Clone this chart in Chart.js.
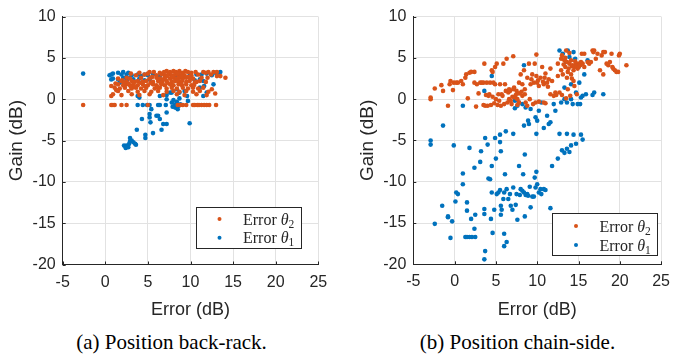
<!DOCTYPE html>
<html>
<head>
<meta charset="utf-8">
<script src="https://cdn.jsdelivr.net/npm/chart.js@4"></script>
<style>
  body { margin: 0; background: #fff; width: 678px; height: 356px; position: relative; overflow: hidden; }
  .panel { position: absolute; top: 0; width: 339px; height: 325px; }
  .caption { position: absolute; top: 331px; width: 339px; text-align: center; line-height: 22px;
             font-family: "Liberation Serif", serif; font-size: 21px; color: #000; }
</style>
</head>
<body>
<div class="panel" style="left:0"><canvas id="backRack" width="339" height="325"></canvas></div>
<div class="panel" style="left:339px"><canvas id="chainSide" width="339" height="325"></canvas></div>
<div class="caption" style="left:2px">(a) Position back-rack.</div>
<div class="caption" style="left:348px">(b) Position chain-side.</div>

<script>
// axis ticks
const xTicks = [-5, 0, 5, 10, 15, 20, 25];
const yTicks = [-20, -15, -10, -5, 0, 5, 10];

// (a) back-rack : [error, gain]
const backTheta2 = [
  [-2.6,-0.7],[0.7,-0.7],[0.9,-0.7],[1.1,-0.7],[1.9,-0.7],[2.5,-0.7],[5.0,-0.7],[8.5,-0.7],[8.8,-0.7],[9.1,-0.7],
  [9.5,-0.7],[10.3,-0.7],[10.5,-0.7],[10.8,-0.7],[11.0,-0.7],[11.3,-0.7],[11.6,-0.7],[11.9,-0.7],[12.2,-0.7],[13.0,-0.7],
  [4.0,3.2],[5.2,3.3],[5.7,3.3],[6.4,3.2],[7.2,3.4],[7.6,3.3],[8.0,3.4],[8.3,3.3],[8.7,3.4],[9.1,3.2],
  [9.7,3.3],[10.1,3.2],[11.5,3.3],[12.1,3.3],[12.7,3.3],[13.1,3.3],
  [3.6,2.9],[4.6,3.0],[6.0,2.9],[6.6,3.0],[7.0,2.9],[7.4,3.0],[7.8,2.9],[8.2,3.0],[8.6,2.9],[9.0,3.0],
  [9.3,2.9],[10.1,2.9],[10.9,3.0],[13.5,2.8],
  [1.5,2.5],[2.5,2.6],[2.9,2.5],[4.2,2.6],[5.2,2.5],[6.0,2.6],[6.4,2.5],[7.0,2.6],[7.6,2.5],[8.0,2.6],
  [8.3,2.5],[8.7,2.6],[9.1,2.5],[9.5,2.6],[10.3,2.5],[11.3,2.6],[14.1,2.6],
  [1.9,2.2],[2.5,2.1],[3.1,2.2],[3.4,2.1],[3.8,2.2],[4.4,2.1],[4.8,2.2],[5.6,2.1],[6.2,2.2],[6.7,2.1],
  [7.2,2.2],[7.8,2.1],[8.2,2.2],[8.6,2.1],[9.0,2.2],[9.5,2.1],[9.9,2.2],[10.7,2.1],[11.1,2.2],
  [0.7,1.6],[1.5,1.8],[2.1,1.7],[2.5,1.8],[2.9,1.7],[3.3,1.8],[3.8,1.7],[4.4,1.8],[5.0,1.7],[5.6,1.8],
  [6.0,1.7],[6.6,1.8],[7.0,1.7],[7.6,1.8],[8.0,1.7],[8.6,1.8],[9.0,1.7],[9.5,1.8],[10.1,1.7],
  [1.1,1.4],[1.7,1.3],[2.3,1.4],[3.1,1.3],[3.6,1.4],[4.2,1.3],[4.8,1.4],[5.8,1.3],[6.4,1.4],[7.2,1.3],
  [7.8,1.4],[8.4,1.3],[9.1,1.4],[9.7,1.3],[10.3,1.4],[10.9,1.3],[11.5,1.4],
  [1.5,1.0],[2.7,1.0],[3.8,0.9],[4.6,1.0],[5.4,0.9],[6.2,1.0],[7.2,0.9],[8.0,1.0],[8.7,0.9],[9.5,1.0],
  [10.3,0.9],[11.1,1.0],[12.1,0.9],
  [0.9,0.6],[1.9,0.5],[3.1,0.6],[4.0,0.5],[5.2,0.6],[6.8,0.5],[8.4,0.6],[9.3,0.5],[10.7,0.6],[11.9,0.5],
  [0.7,0.4],[13.1,2.8],[6.8,2.4],[7.3,2.0],[7.9,2.7],[8.5,2.3],[6.1,1.5],[5.3,2.0],[4.6,1.6],[3.4,1.5],
  [2.7,1.9],[2.0,2.3],[1.3,1.1],[9.8,2.7],[10.5,2.0],[11.8,2.1],[12.5,1.2],[12.9,0.7],
  [3.0,3.1],[5.0,3.1],[6.9,3.3],[8.5,3.1],[9.4,3.4],[10.6,3.3],[11.8,3.2],[12.4,3.0],[5.5,2.7],[7.3,2.8],
  [8.9,2.8],[10.0,2.5],[12.0,2.6],[2.2,2.0],[4.1,2.0],[6.5,2.0],[8.9,1.9],[10.4,1.7],[1.2,1.9],[3.0,1.5]
];
const backTheta1 = [
  [-2.6,3.1],
  [0.5,2.9],[0.7,3.0],[0.9,3.1],[1.5,3.2],[1.9,3.0],[2.1,3.3],[2.5,3.0],[2.7,3.2],[3.1,2.9],[3.8,3.0],
  [4.2,2.8],[4.6,3.0],[5.0,2.9],[5.6,3.0],[6.4,2.8],[8.2,2.8],[9.9,2.9],[10.7,3.0],[11.3,3.0],[11.9,3.1],
  [12.5,2.9],[12.9,3.2],[13.1,3.1],[13.5,3.3],
  [0.9,2.5],[1.5,2.4],[2.1,2.6],[2.5,2.3],[2.9,2.6],[3.3,2.4],[4.0,2.5],[4.6,2.3],[5.2,2.4],[6.4,2.4],
  [10.5,2.3],[11.1,2.4],[11.5,2.2],[0.7,2.4],[1.7,2.0],
  [3.8,0.4],[4.0,0.2],[7.2,0.5],[7.6,0.8],[8.4,1.2],[9.3,1.0],[8.7,0.8],[7.8,0.8],[6.4,0.4],[9.6,0.4],
  [9.7,-0.2],[11.5,0.4],[11.9,0.8],[11.6,1.6],[12.7,1.8],[11.1,1.4],
  [3.8,-0.7],[4.4,-0.7],[4.9,-0.7],[5.2,-0.7],[6.2,-0.7],[6.4,-0.7],[7.1,-0.7],
  [7.8,-0.4],[8.0,-0.1],[8.2,-0.6],[8.4,-0.3],[8.7,0.1],[8.3,-1.0],[8.5,-1.2],[8.8,-0.6],[7.9,-0.9],[7.2,0.0],[8.6,-0.8],
  [5.2,-1.8],[5.4,-1.2],[5.3,-2.8],[6.0,-2.0],[6.2,-2.0],[6.4,-2.4],[6.8,-3.0],[7.2,-1.6],[7.2,-3.0],[6.6,-3.7],
  [5.6,-4.1],[4.7,-4.3],[4.7,-4.7],[3.7,-3.7],[4.3,-2.4],[5.2,-2.2],[9.9,-2.9],[8.2,-1.0],
  [2.2,-5.6],[2.4,-5.8],[2.5,-5.6],[2.7,-5.8],[2.8,-5.4],[2.9,-5.1],[3.1,-5.0],[3.3,-5.2],[3.5,-5.4],[3.6,-5.5],
  [2.9,-4.7],[2.5,-5.7],[2.4,-5.9]
];

// (b) chain-side : [error, gain]
const chainTheta2 = [
  [-2.9,0.0],[-2.9,0.2],[-2.4,1.3],[-1.6,1.7],[-1.4,1.0],[-0.8,-0.8],[-0.6,1.8],[-0.5,2.2],[-0.2,1.1],[-0.1,2.0],
  [0.2,2.0],[0.4,2.0],[0.8,2.2],[1.0,1.8],[1.3,2.6],[1.4,3.0],[1.6,0.1],[1.8,3.2],[2.0,3.3],[2.4,3.3],
  [2.4,2.0],[2.6,-0.9],[2.7,1.8],[2.9,0.7],[3.1,2.0],[3.3,2.0],[3.5,2.0],[3.6,4.3],[3.7,-0.8],[3.9,2.0],
  [4.1,0.4],[4.3,2.0],[4.5,3.5],[4.6,3.3],[4.7,2.0],[4.9,1.8],[4.9,3.9],[5.1,4.3],[5.3,0.6],[5.5,1.8],
  [5.7,0.6],[5.9,4.3],[6.1,1.8],[6.3,4.9],[6.5,0.8],[6.6,0.0],[6.7,1.0],[6.9,-0.6],[7.1,5.2],[7.1,1.2],
  [7.3,0.2],[7.5,1.0],[7.6,0.0],[7.8,2.0],[7.8,-0.4],[8.0,3.0],[8.2,1.8],[8.2,0.4],[8.4,3.5],[8.5,1.2],
  [8.6,-0.4],[8.8,2.6],[9.0,4.3],[9.1,0.0],[9.2,1.8],[9.4,3.0],[9.6,2.0],[9.7,4.3],[9.8,-0.4],[9.9,5.4],
  [10.0,2.0],[10.2,1.6],[10.4,2.6],[10.6,3.9],[10.8,1.8],[10.8,-0.4],[11.0,3.1],[11.2,2.0],[11.4,2.4],[11.6,3.7],
  [11.8,2.2],[12.0,0.4],[12.2,0.8],[12.5,4.3],[12.5,2.8],[12.7,0.8],[12.9,4.9],[12.9,3.5],[13.1,3.0],[13.3,4.7],
  [13.4,3.9],[13.5,5.9],[13.7,3.3],[13.7,1.2],[13.9,4.3],[14.1,4.7],[14.1,3.0],[14.3,4.1],[14.5,3.9],[14.5,1.6],
  [14.7,4.3],[14.9,3.7],[15.1,4.3],[15.3,4.5],[15.4,5.5],[15.5,4.3],[15.7,3.9],[15.7,5.5],[16.1,4.5],[16.3,4.3],
  [16.5,4.5],[16.7,5.9],[16.8,5.7],[16.9,5.9],[17.1,4.9],[17.3,5.5],[17.6,3.5],[17.8,5.3],[18.0,3.0],[18.0,5.7],
  [18.2,5.7],[18.4,4.3],[18.6,4.1],[18.8,4.5],[19.0,5.5],[19.1,3.9],[19.2,3.7],[19.4,3.5],[19.6,3.3],[19.8,3.3],
  [19.9,5.3],[20.0,5.5],[20.8,4.1],
  [3.5,-0.7],[4.0,-0.8],[4.4,-0.7],[4.8,-0.5],[5.2,-0.7],[5.6,-0.8],[6.0,-0.6],[6.4,-0.4],[6.8,-0.2],[7.0,0.3],
  [7.4,0.5],[7.8,0.7],[8.1,0.9],[8.5,0.6],[3.8,0.5],[4.2,0.6],[4.6,0.3],[5.0,0.0],[5.4,-0.2],[5.8,0.4],
  [6.2,1.0],[6.6,1.2],[7.2,1.4],[7.6,-0.7],[8.8,-0.8],[9.5,-0.6],[10.2,-0.3],[11.0,-0.5],[11.6,0.6],[12.3,0.5],
  [13.0,0.5],[14.0,0.4],[14.8,0.6],[13.5,0.1],
  [13.2,4.2],[13.6,4.5],[14.2,4.0],[14.4,3.5],[14.8,4.0],[15.0,3.9],[15.2,4.1],[13.8,3.7],[14.6,4.6],[13.0,5.3],
  [13.4,5.0],[13.9,5.6],[14.2,2.5],[14.4,2.2],[13.6,2.6],[9.3,2.4],[9.9,2.8],[10.1,2.3],[10.7,2.1],[10.9,2.6],[11.3,1.5]
];
const chainTheta1 = [
  [1.0,-0.8],[3.6,1.0],[4.5,2.8],[8.4,4.1],[7.3,-1.1],[7.6,-0.8],[8.9,-2.6],[9.2,-1.2],[9.8,-2.2],[10.0,-2.6],
  [10.2,-1.4],[10.5,-0.4],[11.2,-2.0],[11.6,-2.8],[12.0,-0.6],[12.2,-1.4],[12.7,5.9],[12.9,-0.4],[13.1,5.5],[13.3,1.4],
  [13.5,4.5],[13.6,-0.4],[13.7,5.9],[13.9,5.1],[14.1,1.8],[14.3,-0.6],[14.4,5.7],[14.6,4.9],[14.7,0.8],[14.9,-0.6],
  [15.0,3.9],[15.1,2.0],[15.2,-0.6],[15.5,0.4],[15.7,3.0],[15.9,0.6],[16.1,4.7],[16.7,0.5],[16.9,0.8],[18.0,0.6],
  [7.3,-0.2],[7.8,-0.4],[8.2,-0.6],[8.6,-1.0],[13.3,0.0],[14.1,0.0],[15.3,0.2],
  [-2.9,-5.0],[-2.9,-5.5],[-1.4,-3.2],[-0.1,-5.6],[1.8,-5.9],[1.0,-9.0],[1.0,-10.3],[0.2,-11.3],[0.4,-11.5],[0.1,-12.4],
  [1.5,-12.5],[1.5,-13.5],[2.4,-8.3],[3.1,-7.6],[3.2,-6.3],[3.7,-4.7],[4.0,-5.5],[4.1,-9.6],[4.3,-9.7],[4.5,-8.1],
  [4.5,-11.3],[4.9,-4.7],[5.0,-7.2],[5.1,-11.5],[5.3,-11.3],[5.5,-4.3],[5.5,-5.2],[5.6,-6.3],[5.5,-11.0],[5.6,-12.9],
  [5.7,-13.4],[5.6,-14.0],[5.9,-12.1],[6.0,-11.3],[6.1,-9.1],[6.2,-3.9],[6.3,-10.9],[6.5,-12.1],[6.7,-11.5],[6.8,-12.9],
  [7.0,-13.4],[7.1,-4.2],[7.1,-10.7],[7.4,-12.8],[7.5,-11.5],[7.6,-14.6],[7.8,-8.1],[7.9,-11.6],[8.0,-10.9],[8.2,-11.1],
  [8.3,-9.1],[8.4,-11.3],[8.4,-3.2],[8.5,-6.7],[8.5,-14.2],[8.6,-11.6],[8.8,-11.5],[8.9,-11.7],[9.0,-3.0],[9.1,-10.6],
  [9.2,-13.1],[9.4,-11.8],[9.6,-11.8],[9.7,-9.5],[9.8,-10.7],[9.9,-4.2],[9.9,-8.8],[10.0,-10.3],[10.2,-11.3],[10.4,-10.9],
  [10.5,-11.5],[10.8,-3.5],[10.8,-10.9],[11.0,-11.0],[11.4,-3.0],[11.6,-13.2],[11.8,-8.1],[12.5,-7.2],[12.7,-4.2],[13.0,-6.2],
  [13.3,-6.5],[13.6,-4.2],[13.6,-6.0],[13.9,-6.4],[14.1,-5.6],[14.4,-4.3],[14.7,-5.4],[15.3,-4.3],[15.5,-4.9],
  [-2.4,-15.1],[-1.5,-12.9],[-0.8,-14.2],[-0.8,-14.3],[-0.3,-14.8],[-0.5,-16.8],[1.3,-16.7],[1.5,-16.7],[1.8,-16.7],[2.1,-16.7],
  [2.5,-16.7],[2.0,-14.5],[2.5,-14.0],[2.4,-15.7],[3.6,-13.3],[3.6,-13.9],[4.4,-14.5],[4.8,-13.4],[4.6,-16.2],[3.7,-18.4],
  [3.6,-19.4],[6.0,-16.3],[6.0,-17.8],[6.3,-17.3]
];

const ORANGE = "#D95319";
const BLUE = "#0072BD";
const INK = "#262626";
const GRID = "#e2e2e2";
const SANS = "'Liberation Sans', Arial, sans-serif";
const SERIF = "'Liberation Serif', 'Times New Roman', serif";

// MATLAB style: ticks pointing into the plot
const tickMarks = {
    id: "tickMarks",
    beforeDatasetsDraw(chart) {
        const { ctx, chartArea: a, scales } = chart;
        ctx.save();
        ctx.strokeStyle = INK;
        ctx.lineWidth = 1;
        xTicks.forEach(v => {
            const px = Math.round(scales.x.getPixelForValue(v)) + 0.5;
            ctx.beginPath();
            ctx.moveTo(px, a.bottom);
            ctx.lineTo(px, a.bottom - 3);
            ctx.stroke();
        });
        yTicks.forEach(v => {
            const py = Math.round(scales.y.getPixelForValue(v)) + 0.5;
            ctx.beginPath();
            ctx.moveTo(a.left, py);
            ctx.lineTo(a.left + 3, py);
            ctx.stroke();
        });
        ctx.restore();
    }
};

// legend box with "Error θ2" / "Error θ1"
const thetaLegend = {
    id: "thetaLegend",
    afterDraw(chart, args, opts) {
        const ctx = chart.ctx;
        ctx.save();
        ctx.fillStyle = "#fff";
        ctx.fillRect(opts.x, opts.y, opts.w, opts.h);
        ctx.strokeStyle = INK;
        ctx.lineWidth = 1;
        ctx.strokeRect(opts.x + 0.5, opts.y + 0.5, opts.w - 1, opts.h - 1);
        chart.data.datasets.forEach((ds, i) => {
            const cy = opts.rows[i];
            ctx.fillStyle = ds.backgroundColor;
            ctx.beginPath();
            ctx.arc(opts.markX, cy, 2, 0, Math.PI * 2);
            ctx.fill();
            ctx.fillStyle = INK;
            ctx.textBaseline = "alphabetic";
            let tx = opts.textX;
            const base = cy + 5.5;
            ctx.font = "16px " + SERIF;
            ctx.fillText("Error ", tx, base);
            tx += ctx.measureText("Error ").width;
            ctx.font = "italic 16px " + SERIF;
            ctx.fillText("θ", tx, base);
            tx += ctx.measureText("θ").width;
            ctx.font = "11.5px " + SERIF;
            ctx.fillText(ds.sub, tx, base + 3);
        });
        ctx.restore();
    }
};

function makeChart(id, theta2, theta1, pad, yWidth, xHeight, legendBox) {
    return new Chart(document.getElementById(id), {
        type: "scatter",
        data: {
            datasets: [
                { label: "Error θ2", sub: "2", data: theta2, backgroundColor: ORANGE, pointRadius: 2.3, borderWidth: 0 },
                { label: "Error θ1", sub: "1", data: theta1, backgroundColor: BLUE, pointRadius: 2.3, borderWidth: 0 }
            ]
        },
        options: {
            responsive: false,
            animation: false,
            devicePixelRatio: 1,
            layout: { padding: pad },
            plugins: {
                legend: { display: false },
                tooltip: { enabled: false },
                thetaLegend: legendBox
            },
            scales: {
                x: {
                    type: "linear", min: -5, max: 25,
                    afterBuildTicks: s => { s.ticks = xTicks.map(v => ({ value: v })); },
                    afterFit: s => { s.height = xHeight; },
                    grid: { color: GRID, drawTicks: false },
                    border: { color: INK, width: 1 },
                    ticks: { padding: 8, color: INK, font: { family: SANS, size: 16 } },
                    title: { display: true, text: "Error (dB)", color: INK, padding: { top: 0, bottom: 4 },
                             font: { family: SANS, size: 18 } }
                },
                y: {
                    type: "linear", min: -20, max: 10,
                    afterBuildTicks: s => { s.ticks = yTicks.map(v => ({ value: v })); },
                    afterFit: s => { s.width = yWidth; },
                    grid: { color: GRID, drawTicks: false },
                    border: { color: INK, width: 1 },
                    ticks: { padding: 7, color: INK, font: { family: SANS, size: 16 } },
                    title: { display: true, text: "Gain (dB)", color: INK, padding: { top: 0, bottom: 0 },
                             font: { family: SANS, size: 19 } }
                }
            }
        },
        plugins: [tickMarks, thetaLegend]
    });
}

makeChart("backRack", backTheta2, backTheta1,
    { left: 5.3, right: 20.7, top: 14, bottom: 0 }, 57.4, 60.5,
    { x: 196, y: 207, w: 106, h: 42, markX: 219.5, textX: 243, rows: [219, 237.7] });

makeChart("chainSide", chainTheta2, chainTheta1,
    { left: 16.9, right: 9.7, top: 13.5, bottom: 0 }, 57.4, 60.7,
    { x: 213, y: 213, w: 106, h: 43, markX: 237, textX: 260.5, rows: [226, 245] });
</script>
</body>
</html>
